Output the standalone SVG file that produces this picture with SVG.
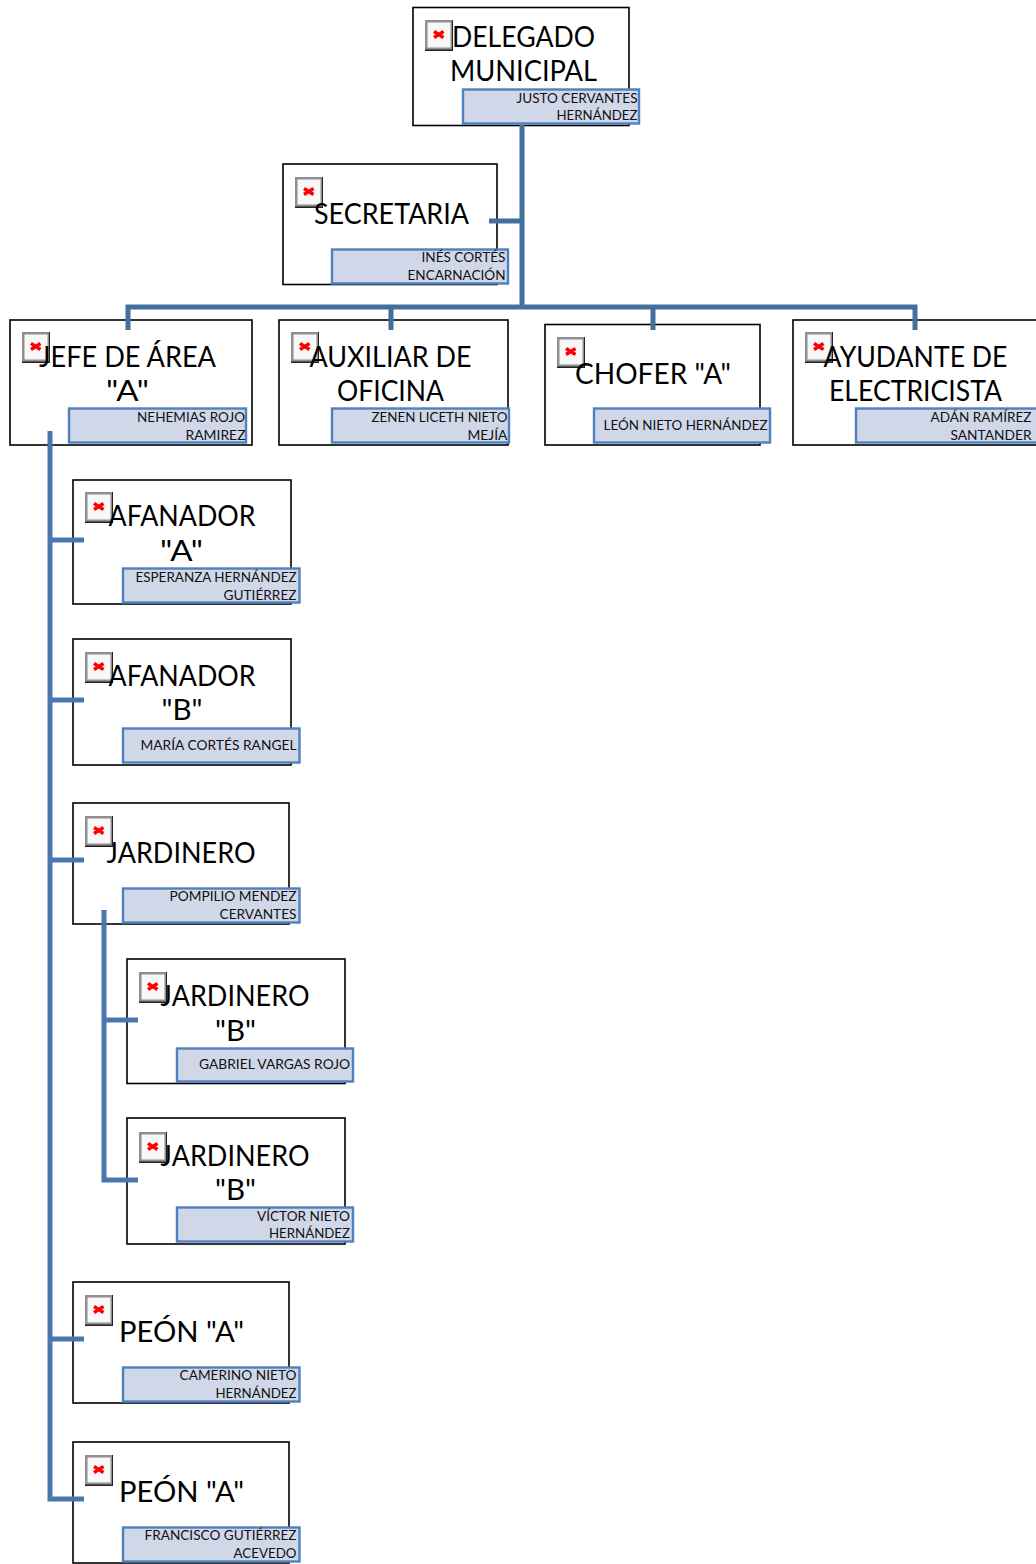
<svg xmlns="http://www.w3.org/2000/svg" width="1036" height="1564" viewBox="0 0 1036 1564">
<style>
.box{fill:#fff;stroke:#000;stroke-width:1.6}
.name{fill:#d0d7e8;stroke:#4f81bd;stroke-width:2.4}
.t{font-family:Lato,"Liberation Sans",sans-serif;font-size:29px;fill:#000;text-anchor:middle}
.n{font-family:Lato,"Liberation Sans",sans-serif;font-size:13.5px;fill:#111;text-anchor:end}
.c1{fill:none;stroke:#41709f;stroke-width:5}
.c2{fill:none;stroke:#4a76ae;stroke-width:5}
</style>
<defs>
<g id="ic">
<rect x="0" y="0" width="28" height="31" fill="#222"/>
<rect x="0" y="0" width="27" height="29.500" fill="#8f8f8f"/>
<rect x="2.500" y="2.500" width="23" height="25" fill="#f8f8f8"/>
<path d="M9 11.500L18.500 17.500M18.500 11.500L9 17.500" stroke="#f00" stroke-width="3.400" fill="none"/>
</g>
</defs>
<g id="n1"><rect class="box" x="413" y="7.500" width="216" height="118"/><use href="#ic" x="425" y="20"/><text class="t" x="523.500" y="46.500" textLength="143" lengthAdjust="spacingAndGlyphs">DELEGADO</text><text class="t" x="523.500" y="81" textLength="147" lengthAdjust="spacingAndGlyphs">MUNICIPAL</text><rect class="name" x="463" y="89.500" width="176" height="34"/><text class="n" x="637.500" y="103" textLength="121" lengthAdjust="spacingAndGlyphs">JUSTO CERVANTES</text><text class="n" x="637.500" y="120" textLength="81" lengthAdjust="spacingAndGlyphs">HERNÁNDEZ</text></g>
<g id="n2"><rect class="box" x="283" y="164" width="214" height="120.500"/><use href="#ic" x="295" y="177"/><text class="t" x="391.500" y="223.500" textLength="155" lengthAdjust="spacingAndGlyphs">SECRETARIA</text><rect class="name" x="332" y="249.500" width="176" height="34"/><text class="n" x="505.500" y="262" textLength="84" lengthAdjust="spacingAndGlyphs">INÉS CORTÉS</text><text class="n" x="505.500" y="280" textLength="98" lengthAdjust="spacingAndGlyphs">ENCARNACIÓN</text></g>
<g id="n3"><rect class="box" x="10" y="320" width="242" height="125"/><use href="#ic" x="22" y="332"/><text class="t" x="127.500" y="366.500" textLength="177" lengthAdjust="spacingAndGlyphs">JEFE DE ÁREA</text><text class="t" x="127.500" y="401" textLength="43" lengthAdjust="spacingAndGlyphs">"A"</text><rect class="name" x="69" y="408.500" width="177" height="34"/><text class="n" x="245" y="422" textLength="108" lengthAdjust="spacingAndGlyphs">NEHEMIAS ROJO</text><text class="n" x="245.500" y="440" textLength="60" lengthAdjust="spacingAndGlyphs">RAMIREZ</text></g>
<g id="n4"><rect class="box" x="279" y="320" width="229" height="125"/><use href="#ic" x="291" y="332"/><text class="t" x="390.500" y="366.500" textLength="162" lengthAdjust="spacingAndGlyphs">AUXILIAR DE</text><text class="t" x="390.500" y="401" textLength="107" lengthAdjust="spacingAndGlyphs">OFICINA</text><rect class="name" x="332" y="408.500" width="177" height="34"/><text class="n" x="507.500" y="422" textLength="136" lengthAdjust="spacingAndGlyphs">ZENEN LICETH NIETO</text><text class="n" x="507.500" y="440" textLength="40" lengthAdjust="spacingAndGlyphs">MEJÍA</text></g>
<g id="n5"><rect class="box" x="545" y="324.500" width="215" height="120.500"/><use href="#ic" x="557" y="337"/><text class="t" x="653" y="383.500" textLength="156" lengthAdjust="spacingAndGlyphs">CHOFER "A"</text><rect class="name" x="594" y="408.500" width="176" height="34"/><text class="n" x="767.500" y="430" textLength="164" lengthAdjust="spacingAndGlyphs">LEÓN NIETO HERNÁNDEZ</text></g>
<g id="n6"><rect class="box" x="793" y="320" width="250" height="125"/><use href="#ic" x="805" y="332"/><text class="t" x="915.500" y="366.500" textLength="184" lengthAdjust="spacingAndGlyphs">AYUDANTE DE</text><text class="t" x="915.500" y="401" textLength="173" lengthAdjust="spacingAndGlyphs">ELECTRICISTA</text><rect class="name" x="856" y="408.500" width="186" height="34"/><text class="n" x="1031.500" y="422" textLength="101" lengthAdjust="spacingAndGlyphs">ADÁN RAMÍREZ</text><text class="n" x="1031.500" y="440" textLength="81" lengthAdjust="spacingAndGlyphs">SANTANDER</text></g>
<g id="n7"><rect class="box" x="73" y="480" width="218" height="124"/><use href="#ic" x="85" y="492"/><text class="t" x="182" y="525.500" textLength="147" lengthAdjust="spacingAndGlyphs">AFANADOR</text><text class="t" x="181.500" y="560.500" textLength="43" lengthAdjust="spacingAndGlyphs">"A"</text><rect class="name" x="123" y="568.500" width="176.500" height="34"/><text class="n" x="296.500" y="582" textLength="161" lengthAdjust="spacingAndGlyphs">ESPERANZA HERNÁNDEZ</text><text class="n" x="296.500" y="600" textLength="73" lengthAdjust="spacingAndGlyphs">GUTIÉRREZ</text></g>
<g id="n8"><rect class="box" x="73" y="639" width="218" height="126"/><use href="#ic" x="85" y="652"/><text class="t" x="182" y="685.500" textLength="147" lengthAdjust="spacingAndGlyphs">AFANADOR</text><text class="t" x="182" y="719.500" textLength="41" lengthAdjust="spacingAndGlyphs">"B"</text><rect class="name" x="123" y="728.500" width="176.500" height="34"/><text class="n" x="296.500" y="750" textLength="156" lengthAdjust="spacingAndGlyphs">MARÍA CORTÉS RANGEL</text></g>
<g id="n9"><rect class="box" x="73" y="803" width="216" height="121"/><use href="#ic" x="85" y="816"/><text class="t" x="181" y="862.500" textLength="149" lengthAdjust="spacingAndGlyphs">JARDINERO</text><rect class="name" x="123" y="888.500" width="176.500" height="34"/><text class="n" x="296.500" y="901" textLength="127" lengthAdjust="spacingAndGlyphs">POMPILIO MENDEZ</text><text class="n" x="296.500" y="919" textLength="77" lengthAdjust="spacingAndGlyphs">CERVANTES</text></g>
<g id="n10"><rect class="box" x="127" y="959" width="218" height="124.500"/><use href="#ic" x="139" y="972"/><text class="t" x="235" y="1005.500" textLength="149" lengthAdjust="spacingAndGlyphs">JARDINERO</text><text class="t" x="235.500" y="1040.500" textLength="41" lengthAdjust="spacingAndGlyphs">"B"</text><rect class="name" x="177" y="1048.500" width="176" height="33"/><text class="n" x="350" y="1069" textLength="151" lengthAdjust="spacingAndGlyphs">GABRIEL VARGAS ROJO</text></g>
<g id="n11"><rect class="box" x="127" y="1118" width="218" height="126"/><use href="#ic" x="139" y="1132"/><text class="t" x="235" y="1165.500" textLength="149" lengthAdjust="spacingAndGlyphs">JARDINERO</text><text class="t" x="235.500" y="1199.500" textLength="41" lengthAdjust="spacingAndGlyphs">"B"</text><rect class="name" x="177" y="1207.500" width="176" height="34"/><text class="n" x="350" y="1221" textLength="93" lengthAdjust="spacingAndGlyphs">VÍCTOR NIETO</text><text class="n" x="350" y="1238" textLength="81" lengthAdjust="spacingAndGlyphs">HERNÁNDEZ</text></g>
<g id="n12"><rect class="box" x="73" y="1282" width="216" height="121"/><use href="#ic" x="85" y="1295"/><text class="t" x="181.500" y="1341.500" textLength="125" lengthAdjust="spacingAndGlyphs">PEÓN "A"</text><rect class="name" x="123" y="1367.500" width="176.500" height="34"/><text class="n" x="296.500" y="1380" textLength="117" lengthAdjust="spacingAndGlyphs">CAMERINO NIETO</text><text class="n" x="296.500" y="1398" textLength="81" lengthAdjust="spacingAndGlyphs">HERNÁNDEZ</text></g>
<g id="n13"><rect class="box" x="73" y="1442" width="216" height="121"/><use href="#ic" x="85" y="1455"/><text class="t" x="181.500" y="1501.500" textLength="125" lengthAdjust="spacingAndGlyphs">PEÓN "A"</text><rect class="name" x="123" y="1527.500" width="176.500" height="34"/><text class="n" x="296.500" y="1540" textLength="152" lengthAdjust="spacingAndGlyphs">FRANCISCO GUTIÉRREZ</text><text class="n" x="296.500" y="1558" textLength="63" lengthAdjust="spacingAndGlyphs">ACEVEDO</text></g>
<g id="connectors">
<path class="c1" d="M522 125V307M489 221H522M128 330V307H915V330M391 307V330M653 307V330"/>
<path class="c2" d="M50 431V1499H84M50 540H84M50 700H84M50 860H84M50 1339H84"/>
<path class="c2" d="M104 910V1180H138M104 1020H138"/>
</g>
</svg>
